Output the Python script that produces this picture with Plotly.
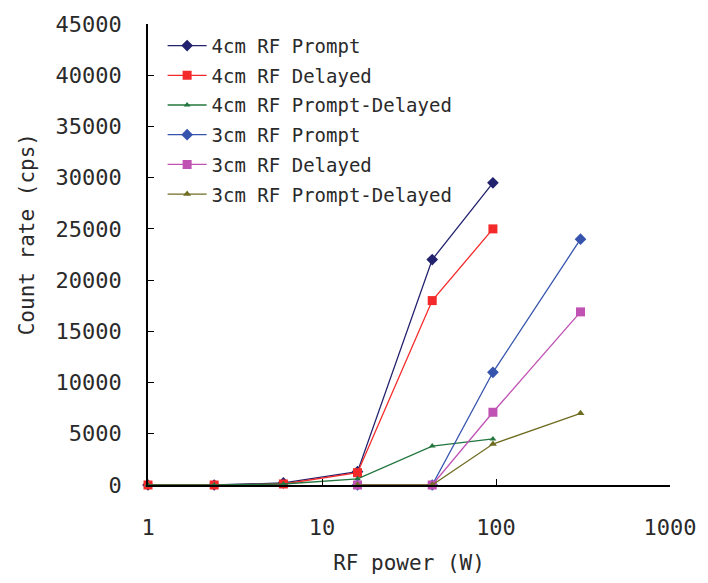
import plotly.graph_objects as go

# Data
x_4cm = [1, 2.4, 6, 16, 43, 96]
prompt_4cm = [0, 0, 200, 1300, 22000, 29500]
delayed_4cm = [0, 0, 100, 1200, 18000, 25000]
pd_4cm = [0, 0, 100, 600, 3800, 4500]

x_3cm = [16, 43, 96, 306]
prompt_3cm = [0, 0, 11000, 24000]
delayed_3cm = [0, 0, 7100, 16900]
pd_3cm = [0, 0, 4000, 7000]

names = ["4cm RF Prompt", "4cm RF Delayed", "4cm RF Prompt-Delayed",
         "3cm RF Prompt", "3cm RF Delayed", "3cm RF Prompt-Delayed"]
xs = [x_4cm, x_4cm, x_4cm, x_3cm, x_3cm, x_3cm]
ys = [prompt_4cm, delayed_4cm, pd_4cm, prompt_3cm, delayed_3cm, pd_3cm]
colors = ["#22226e", "#f42a2a", "#23763e", "#3654ad", "#c052b4", "#6f6d22"]
symbols = ["diamond", "square", "triangle-up", "diamond", "square", "triangle-up"]
sizes = [9, 9, 6, 9, 9, 7]

fig = go.Figure()
for i in range(6):
    fig.add_trace(go.Scatter(
        x=xs[i], y=ys[i], name=names[i], mode="lines+markers",
        line=dict(color=colors[i], width=1.3),
        marker=dict(symbol=symbols[i], size=sizes[i], color=colors[i]),
        legendgroup=f"g{i}", cliponaxis=False,
    ))

font = "DejaVu Sans Mono, monospace"
fig.update_layout(
    width=708, height=583,
    margin=dict(l=148, r=30, t=16, b=96),
    plot_bgcolor="white", paper_bgcolor="white",
    font=dict(family=font, size=21, color="#2a2a2a"),
    showlegend=True,
    legend=dict(x=0.028, y=0.994, xanchor="left", yanchor="top",
                font=dict(size=19, color="#2a2a2a"), tracegroupgap=2,
                itemwidth=39, bgcolor="rgba(0,0,0,0)"),
    xaxis=dict(type="log", range=[0, 3], showgrid=False, zeroline=False,
               showline=True, linecolor="black", linewidth=1.5,
               ticks="inside", ticklen=6, tickcolor="black",
               tickvals=[1, 10, 100, 1000], ticktext=["1", "10", "100", "1000"],
               tickfont=dict(size=22), ticklabelstandoff=22,
               title=dict(text="RF power (W)", standoff=16, font=dict(size=21))),
    yaxis=dict(range=[0, 45000], showgrid=False, zeroline=False,
               showline=True, linecolor="black", linewidth=1.5,
               ticks="inside", ticklen=6, tickcolor="black",
               tickvals=list(range(0, 45001, 5000)), tickformat="d",
               tickfont=dict(size=22), ticklabelstandoff=20),
    annotations=[dict(text="Count rate (cps)", textangle=-90, showarrow=False,
                      xref="paper", yref="paper", x=-0.2302, y=0.5435,
                      xanchor="center", yanchor="middle",
                      font=dict(size=21, family=font, color="#2a2a2a"))],
)

fig.write_html("out.html")
